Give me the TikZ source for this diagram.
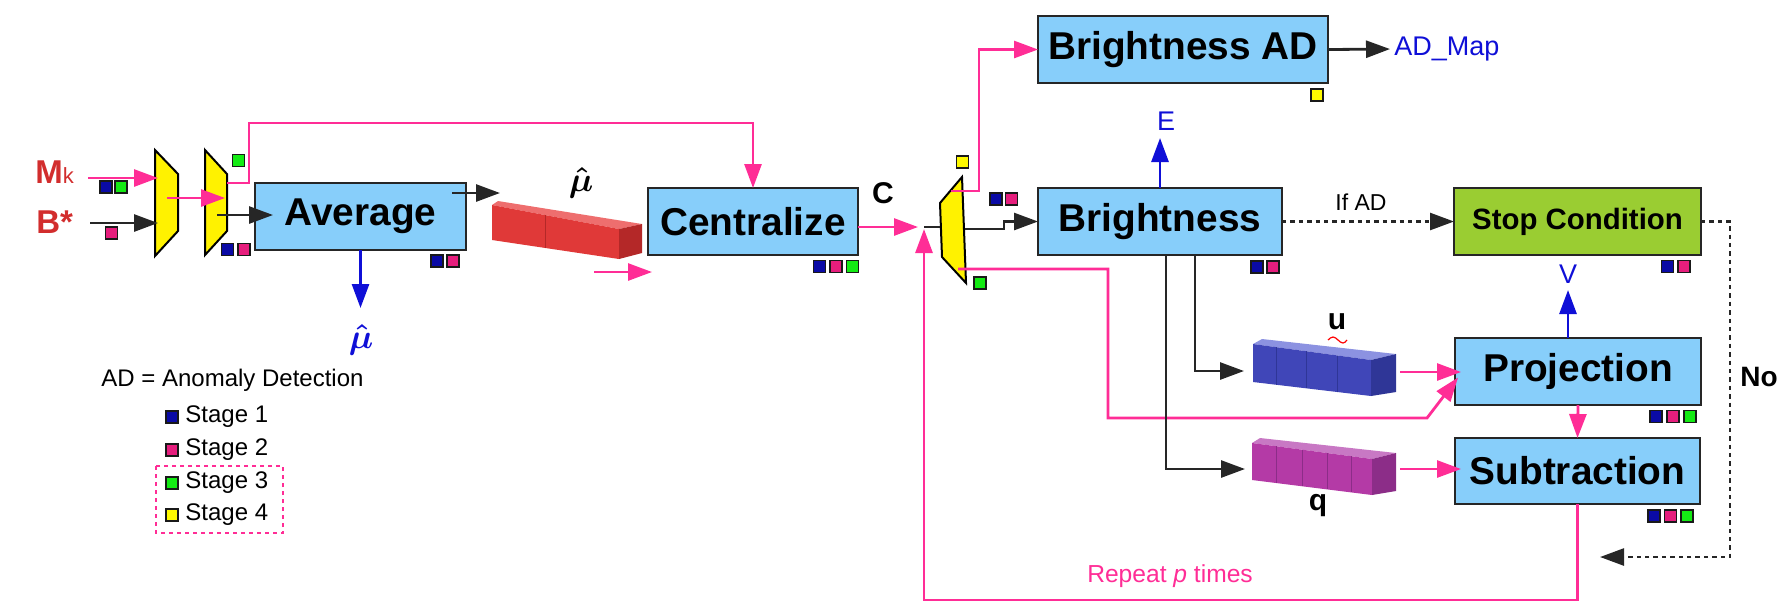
\documentclass[tikz,border=0pt]{standalone}
\usepackage{amsmath}
\usepackage{fontspec}
\setmainfont{Liberation Sans}
\usetikzlibrary{arrows.meta,calc}

\definecolor{boxblue}{RGB}{135,206,250}
\definecolor{stopgreen}{RGB}{154,205,50}
\definecolor{hotpink}{RGB}{255,45,150}
\definecolor{inred}{RGB}{210,45,45}
\definecolor{outblue}{RGB}{15,15,215}
\definecolor{sqblue}{RGB}{10,10,165}
\definecolor{sqpink}{RGB}{230,30,125}
\definecolor{sqgreen}{RGB}{20,235,20}
\definecolor{sqyellow}{RGB}{255,250,0}
\definecolor{redfront}{RGB}{224,57,56}
\definecolor{redtop}{RGB}{238,110,110}
\definecolor{redside}{RGB}{180,40,40}
\definecolor{bluefront}{RGB}{64,70,184}
\definecolor{bluetop}{RGB}{140,146,225}
\definecolor{blueside}{RGB}{47,54,151}
\definecolor{magfront}{RGB}{180,58,166}
\definecolor{magtop}{RGB}{200,120,196}
\definecolor{magside}{RGB}{140,45,136}

\tikzset{
  proc/.style={draw=black!85, line width=1.4pt, fill=boxblue, inner sep=0pt, outer sep=0pt,
    minimum height=33.5pt, font=\bfseries\fontsize{19.4}{22}\selectfont},
  mux/.style={draw=black, line width=1pt, fill=yellow, line join=miter},
  sq/.style={draw=black!90, line width=0.8pt, minimum size=6pt, inner sep=0pt, outer sep=0pt},
  arr/.style={-{Triangle[length=12pt,width=8.5pt]}},
  pk/.style={draw=hotpink, line width=1.4pt},
  bk/.style={draw=black!85, line width=1.4pt},
  bl/.style={draw=outblue, line width=1.4pt},
  dotline/.style={draw=black!85, line width=1.3pt, dash pattern=on 2.2pt off 2pt},
  inlabel/.style={text=inred, font=\bfseries\fontsize{16.5}{18}\selectfont, inner sep=0pt},
  vlabel/.style={font=\bfseries\fontsize{15}{17}\selectfont, inner sep=0pt},
  outlabel/.style={text=outblue, font=\fontsize{13.5}{15}\selectfont, inner sep=0pt},
  legtext/.style={font=\fontsize{12}{14}\selectfont, inner sep=0pt, anchor=west},
}

% small coloured stage marker
\newcommand\stagemark[4]{\node[sq, fill=#4] (#1) at (#2,#3) {};}
% vector drawn as a cuboid: #1 corner prefix, #2 top, #3 front, #4 side, #5 seams
\newcommand\barbody[5]{%
  \fill[#2] (#1A)--(#1E)--(#1F)--(#1B)--cycle;
  \fill[#3] (#1A)--(#1B)--(#1C)--(#1D)--cycle;
  \fill[#4] (#1B)--(#1F)--(#1G)--(#1C)--cycle;
  \foreach \seam in {#5}
    \draw[#4, line width=0.5pt] ($(#1A)!\seam!(#1B)$) -- ($(#1D)!\seam!(#1C)$);
}

\begin{document}
\begin{tikzpicture}[x=0.5pt,y=-0.5pt]
\useasboundingbox (0,0) rectangle (1791,602);

% ---------- vectors
\coordinate (rA) at (492,205); \coordinate (rB) at (619,229);
\coordinate (rC) at (619,259); \coordinate (rD) at (492,240);
\coordinate (rE) at (498,201); \coordinate (rF) at (642,224);
\coordinate (rG) at (642,253);
\barbody{r}{redtop}{redfront}{redside}{0.42}

\coordinate (uA) at (1253,344); \coordinate (uB) at (1371,360);
\coordinate (uC) at (1371,396); \coordinate (uD) at (1253,382);
\coordinate (uE) at (1262,339); \coordinate (uF) at (1396,354);
\coordinate (uG) at (1396,392);
\barbody{u}{bluetop}{bluefront}{blueside}{0.2,0.45,0.72}

\coordinate (qA) at (1252,443); \coordinate (qB) at (1372,459);
\coordinate (qC) at (1372,495); \coordinate (qD) at (1252,480);
\coordinate (qE) at (1260,438); \coordinate (qF) at (1396,453);
\coordinate (qG) at (1396,491);
\barbody{q}{magtop}{magfront}{magside}{0.2,0.42,0.63,0.83}

% ---------- multiplexers
\draw[mux] (155,150) -- (178,174) -- (178,231) -- (155,256) -- cycle;
\draw[mux] (205,150) -- (227,174) -- (227,231) -- (205,255) -- cycle;
\draw[mux] (940,203) -- (962,177) -- (966,283) -- (942,257) -- cycle;

% ---------- processing blocks
\node[proc, minimum width=105.5pt] (avg) at (360.5,216.5) {Average};
\node[proc, minimum width=105pt] (cen) at (753,221.5) {Centralize};
\node[proc, minimum width=145pt] (bad) at (1183,49.5) {Brightness AD};
\node[proc, minimum width=122pt] (bri) at (1160,221.5) {Brightness};
\node[proc, fill=stopgreen, minimum width=123.5pt,
      font=\bfseries\fontsize{14.7}{17}\selectfont] (stop) at (1577.5,221.5) {Stop Condition};
\node[proc, minimum width=123pt] (pro) at (1578,371.5) {Projection};
\node[proc, minimum width=122.5pt, minimum height=33pt] (sub) at (1577.5,471) {Subtraction};

% ---------- labels
\node[inlabel, anchor=west] (mk) at (35,172) {M\textmd{\fontsize{11}{11}\selectfont k}};
\node[inlabel, anchor=west] (bs) at (36,222) {B*};
\node[vlabel] (clab) at (883,193) {C};
\node[inner sep=0pt, font=\fontsize{18}{18}\selectfont] (muhat) at (581,183) {$\boldsymbol{\hat{\mu}}$};
\node[inner sep=0pt, text=outblue, font=\fontsize{18}{18}\selectfont] (muout) at (361,340) {$\boldsymbol{\hat{\mu}}$};
\node[outlabel] (elab) at (1166,121) {E};
\node[outlabel] (vlab) at (1568,274) {V};
\node[outlabel, anchor=west] (admap) at (1394,49) {AD\_Map};
\node[inner sep=0pt, font=\fontsize{11.5}{13}\selectfont] (ifad) at (1361,202) {If AD};
\node[vlabel] (ulab) at (1337,322) {u};
\draw[red, line width=0.6pt] (1328,340) sin (1333,337) cos (1338,340) sin (1343,343) cos (1347,340);
\node[vlabel] (qlab) at (1318,506) {q};
\node[vlabel, font=\bfseries\fontsize{14}{16}\selectfont] (nolab) at (1759,377) {No};
\node[inner sep=0pt, text=hotpink, font=\fontsize{12.3}{14}\selectfont] (rep) at (1170,576) {Repeat \textit{p} times};

% ---------- stage markers
\stagemark{m1}{106}{187}{sqblue}
\stagemark{m2}{121}{187}{sqgreen}
\stagemark{m3}{111.5}{233}{sqpink}
\stagemark{m4}{238.5}{160.5}{sqgreen}
\stagemark{m5}{227.5}{249.5}{sqblue}
\stagemark{m6}{244}{249.5}{sqpink}
\stagemark{m7}{437}{261}{sqblue}
\stagemark{m8}{453}{261}{sqpink}
\stagemark{m9}{819.5}{266.5}{sqblue}
\stagemark{m10}{836}{266.5}{sqpink}
\stagemark{m11}{852.5}{266.5}{sqgreen}
\stagemark{m12}{962.5}{162}{sqyellow}
\stagemark{m13}{996}{199}{sqblue}
\stagemark{m14}{1011.5}{199}{sqpink}
\stagemark{m15}{980}{283}{sqgreen}
\stagemark{m16}{1317}{95}{sqyellow}
\stagemark{m17}{1257}{267}{sqblue}
\stagemark{m18}{1273}{267}{sqpink}
\stagemark{m19}{1667.5}{266.5}{sqblue}
\stagemark{m20}{1684}{266.5}{sqpink}
\stagemark{m21}{1656}{416.5}{sqblue}
\stagemark{m22}{1673}{416.5}{sqpink}
\stagemark{m23}{1690}{416.5}{sqgreen}
\stagemark{m24}{1654}{516}{sqblue}
\stagemark{m25}{1670.5}{516}{sqpink}
\stagemark{m26}{1687}{516}{sqgreen}

% ---------- connection points
\coordinate (mkfrom) at (88,178);   \coordinate (mux1a) at (158,178);
\coordinate (bsfrom) at (90,223);   \coordinate (mux1b) at (158,223);
\coordinate (mux1o) at (167,198);   \coordinate (mux2a) at (225,198);
\coordinate (mux2o) at (217,215);   \coordinate (mux2t) at (227,183);
\coordinate (avgout) at (500,193);
\coordinate (barin) at (594,272);   \coordinate (barend) at (652,272);
\coordinate (jn) at (924,227);      \coordinate (mux3a) at (940,227);
\coordinate (loopc) at (924,600);
\coordinate (mux3t) at (951,191);   \coordinate (mux3m) at (965,229);
\coordinate (mux3b) at (958,269);
\coordinate (ubarin) at (1244,371); \coordinate (qbarin) at (1245,469);
\coordinate (ubarout) at (1400,372);\coordinate (qbarout) at (1400,469);
\coordinate (noend) at (1600,557);

% ---------- connectors
\draw[pk,arr] (mkfrom) -- (mux1a);
\draw[bk,arr] (bsfrom) -- (mux1b);
\draw[pk,arr] (mux1o) -- (mux2a);
\draw[bk,arr, shorten >=-9pt] (mux2o) -- (mux2o -| avg.west);
\draw[pk,arr] (mux2t) -- (249,183) -- (249,123) -| (cen.north);
\draw[bk,arr] ($(avg.east|-avgout)+(-14,0)$) -- (avgout);
\draw[bl,arr] (avg.south) -- ++(0,58);
\draw[pk,arr] (barin) -- (barend);
\draw[pk,arr, shorten >=3pt] (cen.east |- jn) -- (jn);
\draw[pk,arr, shorten >=1pt] (sub.south) |- (loopc) -- (jn);
\draw[bk] (jn) -- (mux3a);
\draw[pk,arr] (mux3t) -- (979,191) |- (bad.west);
\draw[bk,arr] (mux3m) -- (1004,229) -- (1004,221.5) -- (bri.west);
\draw[pk,arr] (mux3b) -- (1108,269) -- (1108,418) -- (1427,418) -- ($(pro.west)+(3,6)$);
\draw[bk,arr, shorten >=2pt] (bad.east) -- (admap.west);
\draw[bl,arr] (bri.north) -- ++(0,-50);
\draw[dotline,arr] (bri.east) -- (stop.west);
\draw[bk,arr] ($(bri.south)+(35,0)$) |- (ubarin);
\draw[bk,arr] ($(bri.south)+(6,0)$) |- (qbarin);
\draw[pk,arr, shorten >=-3pt] (ubarout) -- (pro.west |- ubarout);
\draw[pk,arr, shorten >=-3pt] (qbarout) -- (sub.west |- qbarout);
\draw[bl,arr] ($(pro.north)+(-10,0)$) -- ++(0,-48);
\draw[pk,arr] (pro.south) -- (sub.north);
\draw[dotline,arr] (stop.east) -- (1730,221.5) -- (1730,557) -- (noend);

% ---------- legend
\node[legtext] (adnote) at (101,380) {AD = Anomaly Detection};
\stagemark{l1}{172}{417}{sqblue}
\stagemark{l2}{172}{450}{sqpink}
\stagemark{l3}{172}{483}{sqgreen}
\stagemark{l4}{172}{515}{sqyellow}
\node[legtext] (st1) at (185,417) {Stage 1};
\node[legtext] (st2) at (185,450) {Stage 2};
\node[legtext] (st3) at (185,483) {Stage 3};
\node[legtext] (st4) at (185,515) {Stage 4};
\draw[hotpink, line width=1.2pt, dash pattern=on 2pt off 2pt] (156,466) rectangle (283,533);
\end{tikzpicture}
\end{document}
